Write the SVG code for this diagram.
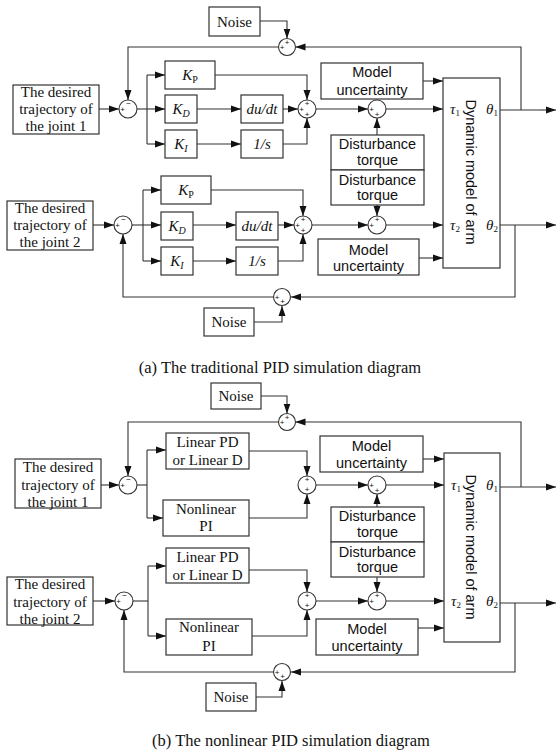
<svg xmlns="http://www.w3.org/2000/svg" width="556" height="755" viewBox="0 0 556 755">
<style>
.bx{fill:#fff;stroke:#333;stroke-width:1.2}
.ln{fill:none;stroke:#333;stroke-width:1.1}
.ar{fill:none;stroke:#333;stroke-width:1.1;marker-end:url(#ah)}
.cs{fill:#fff;stroke:#333;stroke-width:1.1}
.sf{font-family:"Liberation Serif","Times New Roman",serif;font-size:15px;fill:#111;text-anchor:middle}
.it{font-style:italic}
.ss{font-family:"Liberation Sans",Arial,sans-serif;font-size:14.5px;fill:#111;text-anchor:middle}
.sg{font-family:"Liberation Sans",Arial,sans-serif;font-size:8px;fill:#111;text-anchor:middle}
.cap{font-family:"Liberation Serif","Times New Roman",serif;font-size:16.5px;fill:#111;text-anchor:middle}
</style>
<defs>
<marker id="ah" markerUnits="userSpaceOnUse" markerWidth="10" markerHeight="8" refX="10" refY="4" orient="auto">
<path d="M0,0.5 L10,4 L0,7.5 z" fill="#111"/>
</marker>
</defs>

<g id="connectors">
<!-- (a) row 1 -->
<polyline class="ar" points="260,21 287,21 287,38.5"/>
<polyline class="ln" points="500,110 540,110"/>
<line class="ar" x1="540" y1="110" x2="556" y2="110"/>
<polyline class="ar" points="521,110 521,47 295.5,47"/>
<polyline class="ar" points="278.5,47 128,47 128,100"/>
<line class="ar" x1="99" y1="109" x2="119" y2="109"/>
<line class="ln" x1="137" y1="109" x2="147" y2="109"/>
<line class="ln" x1="147" y1="75" x2="147" y2="144"/>
<line class="ar" x1="147" y1="75" x2="165" y2="75"/>
<line class="ar" x1="147" y1="109" x2="165" y2="109"/>
<line class="ar" x1="147" y1="144" x2="165" y2="144"/>
<line class="ar" x1="197" y1="109" x2="241" y2="109"/>
<line class="ar" x1="197" y1="144" x2="241" y2="144"/>
<polyline class="ar" points="215,75 307,75 307,100"/>
<line class="ar" x1="283" y1="109" x2="298" y2="109"/>
<polyline class="ar" points="283,144 307,144 307,118"/>
<line class="ar" x1="316" y1="109" x2="368" y2="109"/>
<line class="ar" x1="386" y1="109" x2="443" y2="109"/>
<line class="ar" x1="423" y1="81" x2="443" y2="81"/>
<line class="ar" x1="377" y1="135" x2="377" y2="118"/>
<line class="ar" x1="377" y1="205" x2="377" y2="216"/>
<!-- (a) row 2 -->
<line class="ar" x1="93" y1="225" x2="114" y2="225"/>
<line class="ln" x1="132" y1="225" x2="143" y2="225"/>
<line class="ln" x1="143" y1="190" x2="143" y2="261"/>
<line class="ar" x1="143" y1="190" x2="161" y2="190"/>
<line class="ar" x1="143" y1="225" x2="161" y2="225"/>
<line class="ar" x1="143" y1="261" x2="161" y2="261"/>
<line class="ar" x1="193" y1="225" x2="236" y2="225"/>
<line class="ar" x1="193" y1="261" x2="236" y2="261"/>
<polyline class="ar" points="211,190 303,190 303,216"/>
<line class="ar" x1="278" y1="225" x2="294" y2="225"/>
<polyline class="ar" points="278,261 303,261 303,234"/>
<line class="ar" x1="312" y1="225" x2="368" y2="225"/>
<line class="ar" x1="386" y1="225" x2="443" y2="225"/>
<line class="ar" x1="419" y1="258" x2="443" y2="258"/>
<line class="ar" x1="500" y1="225" x2="556" y2="225"/>
<polyline class="ar" points="515,225 515,297 291,297"/>
<polyline class="ar" points="254,322 282,322 282,306"/>
<polyline class="ar" points="273,297 123,297 123,234"/>
<!-- (b) row 1 -->
<polyline class="ar" points="261,396 287,396 287,413.5"/>
<line class="ar" x1="500" y1="487" x2="556" y2="487"/>
<polyline class="ar" points="521,487 521,422 295.5,422"/>
<polyline class="ar" points="278.5,422 128,422 128,476"/>
<line class="ar" x1="101" y1="485" x2="119" y2="485"/>
<line class="ln" x1="137" y1="485" x2="147" y2="485"/>
<line class="ln" x1="147" y1="450" x2="147" y2="518"/>
<line class="ar" x1="147" y1="450" x2="166" y2="450"/>
<line class="ar" x1="147" y1="518" x2="163" y2="518"/>
<polyline class="ar" points="249,451 307,451 307,476"/>
<polyline class="ar" points="249,518 307,518 307,494"/>
<line class="ar" x1="316" y1="485" x2="368" y2="485"/>
<line class="ar" x1="386" y1="485" x2="444" y2="485"/>
<line class="ar" x1="423" y1="459" x2="444" y2="459"/>
<line class="ar" x1="377" y1="507" x2="377" y2="494"/>
<line class="ar" x1="377" y1="577" x2="377" y2="592"/>
<!-- (b) row 2 -->
<line class="ar" x1="93" y1="601" x2="115" y2="601"/>
<line class="ln" x1="133" y1="601" x2="148" y2="601"/>
<line class="ln" x1="148" y1="566" x2="148" y2="636"/>
<line class="ar" x1="148" y1="566" x2="166" y2="566"/>
<line class="ar" x1="148" y1="636" x2="166" y2="636"/>
<polyline class="ar" points="249,570 307,570 307,592"/>
<polyline class="ar" points="252,636 307,636 307,610"/>
<line class="ar" x1="316" y1="601" x2="368" y2="601"/>
<line class="ar" x1="386" y1="601" x2="444" y2="601"/>
<line class="ar" x1="418" y1="628" x2="444" y2="628"/>
<line class="ar" x1="500" y1="603" x2="556" y2="603"/>
<polyline class="ar" points="515,603 515,672 291,672"/>
<polyline class="ar" points="256,697 282,697 282,681"/>
<polyline class="ar" points="273,672 124,672 124,610"/>
</g>

<!-- ===== (a) ===== -->
<g id="a-noise1"><rect class="bx" x="209" y="7" width="51" height="29"/><text class="sf" x="234.5" y="26.5">Noise</text></g>
<g id="a-fb1"><circle class="cs" cx="287" cy="47" r="8.5"/><text class="sg" x="287" y="45">+</text><text class="sg" x="282" y="50">+</text></g>
<g id="a-traj1"><rect class="bx" x="13" y="85" width="86" height="49"/><text class="sf" x="56" y="97">The desired</text><text class="sf" x="56" y="114">trajectory of</text><text class="sf" x="56" y="131">the joint 1</text></g>
<g id="a-sum1"><circle class="cs" cx="128" cy="109" r="9"/><text class="sg" x="122.5" y="112">+</text><text class="sg" x="128.5" y="106">−</text></g>
<g id="a-kp1"><rect class="bx" x="165" y="61" width="50" height="28"/><text class="sf" x="190" y="80"><tspan class="it">K</tspan><tspan font-size="10" dy="3">P</tspan></text></g>
<g id="a-kd1"><rect class="bx" x="165" y="95" width="32" height="28"/><text class="sf" x="181" y="114"><tspan class="it">K</tspan><tspan class="it" font-size="10" dy="3">D</tspan></text></g>
<g id="a-ki1"><rect class="bx" x="165" y="130" width="32" height="28"/><text class="sf" x="181" y="149"><tspan class="it">K</tspan><tspan class="it" font-size="10" dy="3">I</tspan></text></g>
<g id="a-dudt1"><rect class="bx" x="241" y="95" width="42" height="28"/><text class="sf it" x="262" y="114">du/dt</text></g>
<g id="a-int1"><rect class="bx" x="241" y="130" width="42" height="28"/><text class="sf it" x="262" y="149">1/s</text></g>
<g id="a-pid1"><circle class="cs" cx="307" cy="109" r="9"/><text class="sg" x="307" y="106">+</text><text class="sg" x="301.5" y="112">+</text><text class="sg" x="307" y="117">+</text></g>
<g id="a-dsum1"><circle class="cs" cx="377" cy="109" r="9"/><text class="sg" x="371.5" y="112">+</text><text class="sg" x="377" y="117">+</text></g>
<g id="a-mu1"><rect class="bx" x="321" y="63" width="102" height="36"/><text class="ss" x="372" y="77">Model</text><text class="ss" x="372" y="95">uncertainty</text></g>
<g id="a-dt1"><rect class="bx" x="331" y="135" width="93" height="35"/><text class="ss" x="377.5" y="149">Disturbance</text><text class="ss" x="377.5" y="165">torque</text></g>
<g id="a-dt2"><rect class="bx" x="331" y="170" width="93" height="35"/><text class="ss" x="377.5" y="184.5">Disturbance</text><text class="ss" x="377.5" y="200">torque</text></g>
<g id="a-dyn"><rect class="bx" x="443" y="78" width="57" height="190"/>
<text class="ss" font-size="15" transform="translate(466,172) rotate(90)" x="0" y="0">Dynamic model of arm</text>
<text class="sf it" font-size="13" x="455" y="114">τ<tspan font-size="9" font-style="normal" dy="2">1</tspan></text>
<text class="sf it" font-size="13" x="492" y="114">θ<tspan font-size="9" font-style="normal" dy="2">1</tspan></text>
<text class="sf it" font-size="13" x="455" y="230">τ<tspan font-size="9" font-style="normal" dy="2">2</tspan></text>
<text class="sf it" font-size="13" x="492" y="230">θ<tspan font-size="9" font-style="normal" dy="2">2</tspan></text>
</g>
<g id="a-traj2"><rect class="bx" x="7" y="201" width="86" height="49"/><text class="sf" x="50" y="213">The desired</text><text class="sf" x="50" y="230">trajectory of</text><text class="sf" x="50" y="247">the joint 2</text></g>
<g id="a-sum2"><circle class="cs" cx="123" cy="225" r="9"/><text class="sg" x="117.5" y="228">+</text><text class="sg" x="123.5" y="222">−</text></g>
<g id="a-kp2"><rect class="bx" x="161" y="176" width="50" height="28"/><text class="sf" x="186" y="195"><tspan class="it">K</tspan><tspan font-size="10" dy="3">P</tspan></text></g>
<g id="a-kd2"><rect class="bx" x="161" y="212" width="32" height="28"/><text class="sf" x="177" y="231"><tspan class="it">K</tspan><tspan class="it" font-size="10" dy="3">D</tspan></text></g>
<g id="a-ki2"><rect class="bx" x="161" y="247" width="32" height="28"/><text class="sf" x="177" y="266"><tspan class="it">K</tspan><tspan class="it" font-size="10" dy="3">I</tspan></text></g>
<g id="a-dudt2"><rect class="bx" x="236" y="212" width="42" height="28"/><text class="sf it" x="257" y="231">du/dt</text></g>
<g id="a-int2"><rect class="bx" x="236" y="247" width="42" height="28"/><text class="sf it" x="257" y="266">1/s</text></g>
<g id="a-pid2"><circle class="cs" cx="303" cy="225" r="9"/><text class="sg" x="303" y="222">+</text><text class="sg" x="297.5" y="228">+</text><text class="sg" x="303" y="233">+</text></g>
<g id="a-dsum2"><circle class="cs" cx="377" cy="225" r="9"/><text class="sg" x="377" y="222">+</text><text class="sg" x="371.5" y="228">+</text></g>
<g id="a-mu2"><rect class="bx" x="318" y="239" width="101" height="36"/><text class="ss" x="368.5" y="255">Model</text><text class="ss" x="368.5" y="271">uncertainty</text></g>
<g id="a-fb2"><circle class="cs" cx="282" cy="297" r="8.5"/><text class="sg" x="277" y="300">+</text><text class="sg" x="282.5" y="304">+</text></g>
<g id="a-noise2"><rect class="bx" x="204" y="308" width="50" height="28"/><text class="sf" x="229" y="327">Noise</text></g>
<text class="cap" x="280" y="373">(a) The traditional PID simulation diagram</text>

<!-- ===== (b) ===== -->
<g id="b-noise1"><rect class="bx" x="211" y="383" width="50" height="26"/><text class="sf" x="236" y="401">Noise</text></g>
<g id="b-fb1"><circle class="cs" cx="287" cy="422" r="8.5"/><text class="sg" x="287" y="420">+</text><text class="sg" x="282" y="425">+</text></g>
<g id="b-traj1"><rect class="bx" x="15" y="459" width="86" height="49"/><text class="sf" x="58" y="472">The desired</text><text class="sf" x="58" y="489.5">trajectory of</text><text class="sf" x="58" y="507">the joint 1</text></g>
<g id="b-sum1"><circle class="cs" cx="128" cy="485" r="9"/><text class="sg" x="122.5" y="488">+</text><text class="sg" x="128.5" y="482">−</text></g>
<g id="b-lpd1"><rect class="bx" x="166" y="433" width="83" height="36"/><text class="sf" x="207.5" y="447">Linear PD</text><text class="sf" x="207.5" y="465">or Linear D</text></g>
<g id="b-npi1"><rect class="bx" x="163" y="500" width="86" height="36"/><text class="sf" x="206" y="514">Nonlinear</text><text class="sf" x="206" y="531">PI</text></g>
<g id="b-pid1"><circle class="cs" cx="307" cy="485" r="9"/><text class="sg" x="307" y="482">+</text><text class="sg" x="307" y="492">+</text></g>
<g id="b-dsum1"><circle class="cs" cx="377" cy="485" r="9"/><text class="sg" x="371.5" y="488">+</text><text class="sg" x="377" y="493">+</text></g>
<g id="b-mu1"><rect class="bx" x="320" y="436" width="103" height="36"/><text class="ss" x="371.5" y="451">Model</text><text class="ss" x="371.5" y="468">uncertainty</text></g>
<g id="b-dt1"><rect class="bx" x="331" y="507" width="93" height="35"/><text class="ss" x="377.5" y="521">Disturbance</text><text class="ss" x="377.5" y="537">torque</text></g>
<g id="b-dt2"><rect class="bx" x="331" y="542" width="93" height="35"/><text class="ss" x="377.5" y="556.5">Disturbance</text><text class="ss" x="377.5" y="572">torque</text></g>
<g id="b-dyn"><rect class="bx" x="444" y="453" width="56" height="189"/>
<text class="ss" font-size="15" transform="translate(466,547) rotate(90)" x="0" y="0">Dynamic model of arm</text>
<text class="sf it" font-size="13" x="456" y="490">τ<tspan font-size="9" font-style="normal" dy="2">1</tspan></text>
<text class="sf it" font-size="13" x="492" y="490">θ<tspan font-size="9" font-style="normal" dy="2">1</tspan></text>
<text class="sf it" font-size="13" x="456" y="606">τ<tspan font-size="9" font-style="normal" dy="2">2</tspan></text>
<text class="sf it" font-size="13" x="492" y="606">θ<tspan font-size="9" font-style="normal" dy="2">2</tspan></text>
</g>
<g id="b-traj2"><rect class="bx" x="7" y="577" width="86" height="48"/><text class="sf" x="50" y="589">The desired</text><text class="sf" x="50" y="606.5">trajectory of</text><text class="sf" x="50" y="624">the joint 2</text></g>
<g id="b-sum2"><circle class="cs" cx="124" cy="601" r="9"/><text class="sg" x="118.5" y="604">+</text><text class="sg" x="124.5" y="598">−</text></g>
<g id="b-lpd2"><rect class="bx" x="166" y="548" width="83" height="35"/><text class="sf" x="207.5" y="562">Linear PD</text><text class="sf" x="207.5" y="580">or Linear D</text></g>
<g id="b-npi2"><rect class="bx" x="166" y="619" width="86" height="36"/><text class="sf" x="209" y="632">Nonlinear</text><text class="sf" x="209" y="651">PI</text></g>
<g id="b-pid2"><circle class="cs" cx="307" cy="601" r="9"/><text class="sg" x="307" y="598">+</text><text class="sg" x="307" y="608">+</text></g>
<g id="b-dsum2"><circle class="cs" cx="377" cy="601" r="9"/><text class="sg" x="377" y="598">+</text><text class="sg" x="371.5" y="604">+</text></g>
<g id="b-mu2"><rect class="bx" x="316" y="619" width="102" height="36"/><text class="ss" x="367" y="634">Model</text><text class="ss" x="367" y="651">uncertainty</text></g>
<g id="b-fb2"><circle class="cs" cx="282" cy="672" r="8.5"/><text class="sg" x="277" y="675">+</text><text class="sg" x="282.5" y="679">+</text></g>
<g id="b-noise2"><rect class="bx" x="206" y="683" width="50" height="28"/><text class="sf" x="231" y="702">Noise</text></g>
<text class="cap" x="291" y="746">(b) The nonlinear PID simulation diagram</text>
</svg>
